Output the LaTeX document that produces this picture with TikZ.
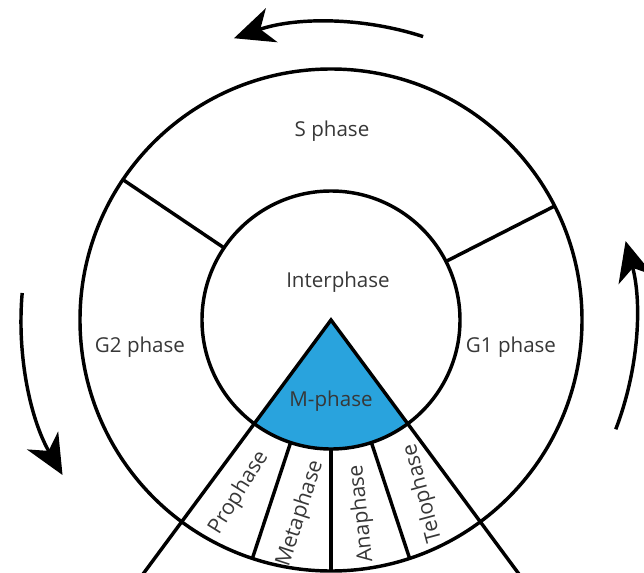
\documentclass[tikz,border=0pt]{standalone}
\usepackage{fontspec}
\setmainfont{Open Sans}
\usetikzlibrary{arrows.meta}
\definecolor{mblue}{RGB}{41,163,221}
\definecolor{txtgray}{RGB}{55,55,55}

\begin{document}
\begin{tikzpicture}[scale=0.0265, line width=2.6pt,
	lbl/.style={text=txtgray, font=\fontsize{15.5}{18}\selectfont, inner sep=0pt},
	sublbl/.style={lbl, font=\fontsize{16}{18}\selectfont},
	turn/.style={-{Stealth[length=30pt,width=27pt,inset=9pt]}}]
	\useasboundingbox (-331,-252) rectangle (313,320);
	\clip (-331,-252) rectangle (313,320);
	% M-phase wedge
	\fill[mblue] (0,0) -- (233.5:129) arc (233.5:306.5:129) -- cycle;
	\draw (0,0) circle (129);
	\draw (0,0) circle (251);
	\draw (233.5:129) -- (0,0) -- (306.5:129);
	\draw (233.5:129) -- (233.5:340);
	\draw (306.5:129) -- (306.5:340);
	\foreach \a in {251.75,270,288.25} \draw (\a:129) -- (\a:251);
	\draw (146:129) -- (146:251);
	\draw (27:129) -- (27:251);
	% labels
	\node[lbl] (sph) at (1,189) {S phase};
	\node[lbl] (inter) at (7,38) {Interphase};
	\node[lbl] (gtwo) at (-191,-27) {G2 phase};
	\node[lbl] (gone) at (180,-27) {G1 phase};
	\node[lbl] (mph) at (0,-81) {M-phase};
	\foreach \a/\r/\t in {242/58/Prophase, 261/72/Metaphase, 279/96/Anaphase, 298/105/Telophase}
		\node[sublbl, rotate=\r] (\t) at (\a:196) {\t};
	% cycle arrows
	\draw[turn] (72:298) arc (72:109:298);
	\draw[turn] (175:310) arc (175:210:310);
	\draw[turn] (-21:305) arc (-21:15:305);
\end{tikzpicture}
\end{document}
